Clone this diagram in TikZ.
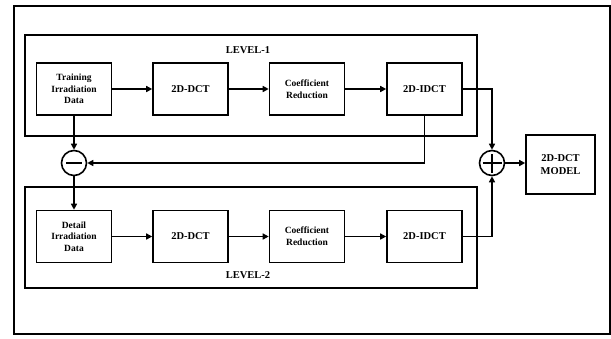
\documentclass[tikz,border=0pt]{standalone}
\usepackage{fontspec}
\setmainfont{Liberation Serif}
\usetikzlibrary{arrows.meta}
\begin{document}
\begin{tikzpicture}[x=1pt,y=-1pt,
  blockbox/.style={draw,line width=1.6pt,minimum width=75pt,minimum height=52pt,inner sep=1pt,
    align=center,font=\bfseries\fontsize{9.5}{11.7}\selectfont},
  bigbox/.style={blockbox,font=\bfseries\fontsize{10.5}{12.5}\selectfont},
  sumnode/.style={draw,circle,line width=1.6pt,minimum size=25pt,inner sep=0pt},
  flow/.style={line width=1.6pt,-{Triangle[length=6pt,width=6pt]}},
  levelframe/.style={draw,line width=1.6pt},
  levellabel/.style={font=\bfseries\fontsize{10.5}{12}\selectfont}]
\useasboundingbox (0,0) rectangle (611,338);
% outer frame and the two level frames
\draw[line width=1.1pt] (14,6) rectangle (610,334);
\draw[levelframe] (25,35) rectangle (477,136);
\draw[levelframe] (25,187) rectangle (477,288);
\node[levellabel] (lab1) at (248,50) {LEVEL-1};
\node[levellabel] (lab2) at (248,275) {LEVEL-2};
% level 1 chain
\node[blockbox] (train) at (74,89) {Training\\Irradiation\\Data};
\node[bigbox] (dct1) at (190.5,89) {2D-DCT};
\node[blockbox] (coef1) at (307,89) {Coefficient\\Reduction};
\node[bigbox] (idct1) at (424.5,89) {2D-IDCT};
% level 2 chain
\node[blockbox] (detail) at (74,236.5) {Detail\\Irradiation\\Data};
\node[bigbox] (dct2) at (190.5,236.5) {2D-DCT};
\node[blockbox] (coef2) at (307,236.5) {Coefficient\\Reduction};
\node[bigbox] (idct2) at (424.5,236.5) {2D-IDCT};
% summing junctions and result
\node[sumnode] (minus) at (74,163) {};
\draw[line width=2.4pt] ([xshift=-8pt]minus.center) -- ([xshift=8pt]minus.center);
\node[sumnode] (plus) at (492,163) {};
\draw[line width=1.8pt] ([xshift=-9.5pt]plus.center) -- ([xshift=9.5pt]plus.center);
\draw[line width=1.8pt] ([yshift=-9.5pt]plus.center) -- ([yshift=9.5pt]plus.center);
\node[bigbox,minimum width=69pt,minimum height=59pt] (model) at (560.5,164.5) {2D-DCT\\MODEL};
% connectors
\draw[flow] (train) -- (dct1);
\draw[flow] (dct1) -- (coef1);
\draw[flow] (coef1) -- (idct1);
\draw[flow] (detail) -- (dct2);
\draw[flow] (dct2) -- (coef2);
\draw[flow] (coef2) -- (idct2);
\draw[flow] (idct1.east) -| (plus.north);
\draw[flow] (idct2.east) -| (plus.south);
\draw[flow] (idct1.south) |- (minus.east);
\draw[flow] (train.south) -- (minus.north);
\draw[flow] (minus.south) -- (detail.north);
\draw[flow] (plus.east) -- (plus.east -| model.west);
\end{tikzpicture}
\end{document}
